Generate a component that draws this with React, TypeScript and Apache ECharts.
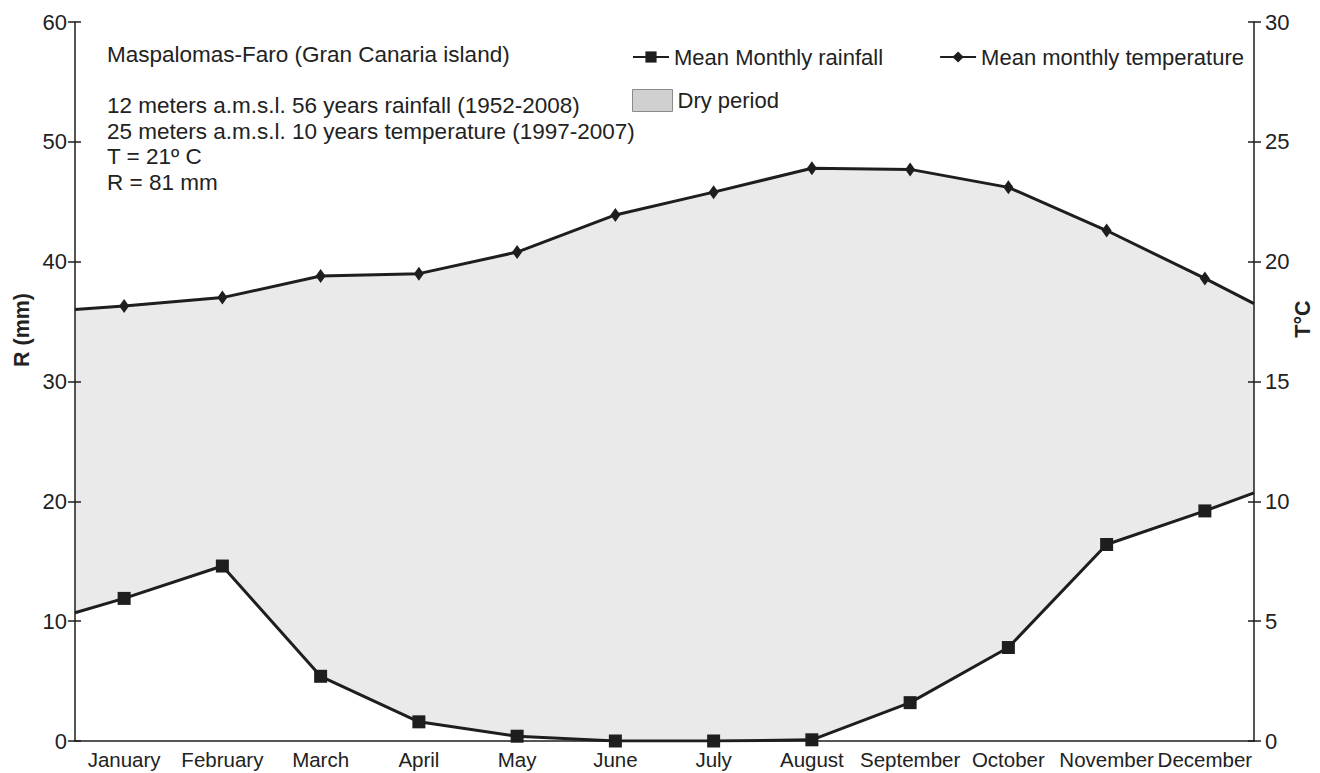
import React, { useEffect, useRef } from "react";
import * as echarts from "echarts";

const months = ["January", "February", "March", "April", "May", "June", "July", "August", "September", "October", "November", "December"];
const rainfall = [11.9, 14.6, 5.4, 1.6, 0.4, 0, 0, 0.1, 3.2, 7.8, 16.4, 19.2];
const temperature = [18.15, 18.5, 19.4, 19.5, 20.4, 21.95, 22.9, 23.9, 23.85, 23.1, 21.3, 19.3];
// values where the lines meet the left and right frame
const rainfallEdges = [10.7, 20.7];
const temperatureEdges = [18.0, 18.25];
const annotation = [
  "Maspalomas-Faro (Gran Canaria island)",
  "",
  "12 meters a.m.s.l. 56 years rainfall (1952-2008)",
  "25 meters a.m.s.l. 10 years temperature (1997-2007)",
  "T = 21º C",
  "R = 81 mm",
];

const FONT = "'Liberation Sans', Arial, sans-serif";
const INK = "#1e1e1e";

function points(values: number[], edges: number[]) {
  return [
    { value: [0.5, edges[0]], symbol: "none" },
    ...values.map((v, i) => ({ value: [i + 1, v] })),
    { value: [12.5, edges[1]], symbol: "none" },
  ];
}

export default function App() {
  const ref = useRef<HTMLDivElement>(null);
  useEffect(() => {
    if (!ref.current) return;
    const chart = echarts.init(ref.current, undefined, { renderer: "svg" });
    const label = { fontSize: 22, color: "#222", fontFamily: FONT };
    const rainPts = points(rainfall, rainfallEdges);
    const tempPts = points(temperature, temperatureEdges);
    chart.setOption({
      animation: false,
      backgroundColor: "#fff",
      textStyle: { fontFamily: FONT },
      grid: { left: 75, right: 66, top: 22, bottom: 32 },
      xAxis: [
        {
          type: "category",
          data: months,
          boundaryGap: true,
          z: 10,
          axisLine: { lineStyle: { color: INK, width: 1.5 } },
          axisTick: { inside: true, length: 8, interval: 0, lineStyle: { color: INK, width: 1.5 } },
          axisLabel: { ...label, fontSize: 20.5, interval: 0, margin: 8 },
          splitLine: { show: false },
        },
        { type: "value", min: 0.5, max: 12.5, show: false },
      ],
      yAxis: [
        {
          type: "value", position: "left", min: 0, max: 60, interval: 10, z: 10,
          axisLine: { show: true, lineStyle: { color: INK, width: 1.5 } },
          axisTick: { show: true, length: 7, lineStyle: { color: INK, width: 1.5 } },
          axisLabel: { ...label, margin: 8 },
          splitLine: { show: false },
        },
        {
          type: "value", position: "left", min: 0, max: 60, interval: 10, z: 10,
          axisLine: { show: false },
          axisTick: { show: true, inside: true, length: 6, lineStyle: { color: INK, width: 1.5 } },
          axisLabel: { show: false },
          splitLine: { show: false },
        },
        {
          type: "value", position: "right", min: 0, max: 30, interval: 5, z: 10,
          axisLine: { show: true, lineStyle: { color: INK, width: 1.5 } },
          axisTick: { show: true, length: 7, lineStyle: { color: INK, width: 1.5 } },
          axisLabel: { ...label, margin: 11 },
          splitLine: { show: false },
        },
        {
          type: "value", position: "right", min: 0, max: 30, interval: 5, z: 10,
          axisLine: { show: false },
          axisTick: { show: true, inside: true, length: 6, lineStyle: { color: INK, width: 1.5 } },
          axisLabel: { show: false },
          splitLine: { show: false },
        },
      ],
      legend: [
        {
          data: ["Mean Monthly rainfall", "Mean monthly temperature"],
          left: 627, top: 41, itemWidth: 36, itemHeight: 14, itemGap: 56,
          textStyle: { ...label },
        },
        {
          data: [{ name: "Dry period", icon: "rect", itemStyle: { color: "#d0d0d0", borderColor: "#8a8a8a", borderWidth: 1 } }],
          left: 627, top: 84, itemWidth: 40, itemHeight: 22,
          textStyle: { ...label },
        },
      ],
      series: [
        {
          name: "Dry period", type: "line", xAxisIndex: 1, yAxisIndex: 2, data: tempPts,
          symbol: "none", lineStyle: { width: 0 }, itemStyle: { color: "#d0d0d0" },
          areaStyle: { color: "#eaeaea", opacity: 1 }, z: 1,
        },
        {
          name: "mask", type: "line", xAxisIndex: 1, yAxisIndex: 0, data: rainPts,
          symbol: "none", lineStyle: { width: 0 }, areaStyle: { color: "#ffffff", opacity: 1 }, z: 2,
        },
        {
          name: "Mean Monthly rainfall", type: "line", xAxisIndex: 1, yAxisIndex: 0, data: rainPts,
          symbol: "rect", symbolSize: 13, color: INK, itemStyle: { color: INK },
          lineStyle: { color: INK, width: 3 }, z: 3,
        },
        {
          name: "Mean monthly temperature", type: "line", xAxisIndex: 1, yAxisIndex: 2, data: tempPts,
          symbol: "diamond", symbolSize: [10, 14], color: INK, itemStyle: { color: INK },
          lineStyle: { color: INK, width: 3 }, z: 3,
        },
      ],
      graphic: [
        {
          type: "text", left: 107, top: 42,
          style: { text: annotation.join("\n"), fontSize: 22.5, lineHeight: 25.5, fill: "#222", fontFamily: FONT },
        },
        {
          type: "text", x: 22, y: 330, rotation: Math.PI / 2,
          style: { text: "R (mm)", fontSize: 21.5, fontWeight: "bold", fill: "#222", fontFamily: FONT, align: "center", verticalAlign: "middle" },
        },
        {
          type: "text", x: 1303, y: 319, rotation: Math.PI / 2,
          style: { text: "T°C", fontSize: 21.5, fontWeight: "bold", fill: "#222", fontFamily: FONT, align: "center", verticalAlign: "middle" },
        },
      ],
    });
    return () => chart.dispose();
  }, []);
  return <div ref={ref} style={{ position: "fixed", left: 0, top: 0, width: 1320, height: 773 }} />;
}
